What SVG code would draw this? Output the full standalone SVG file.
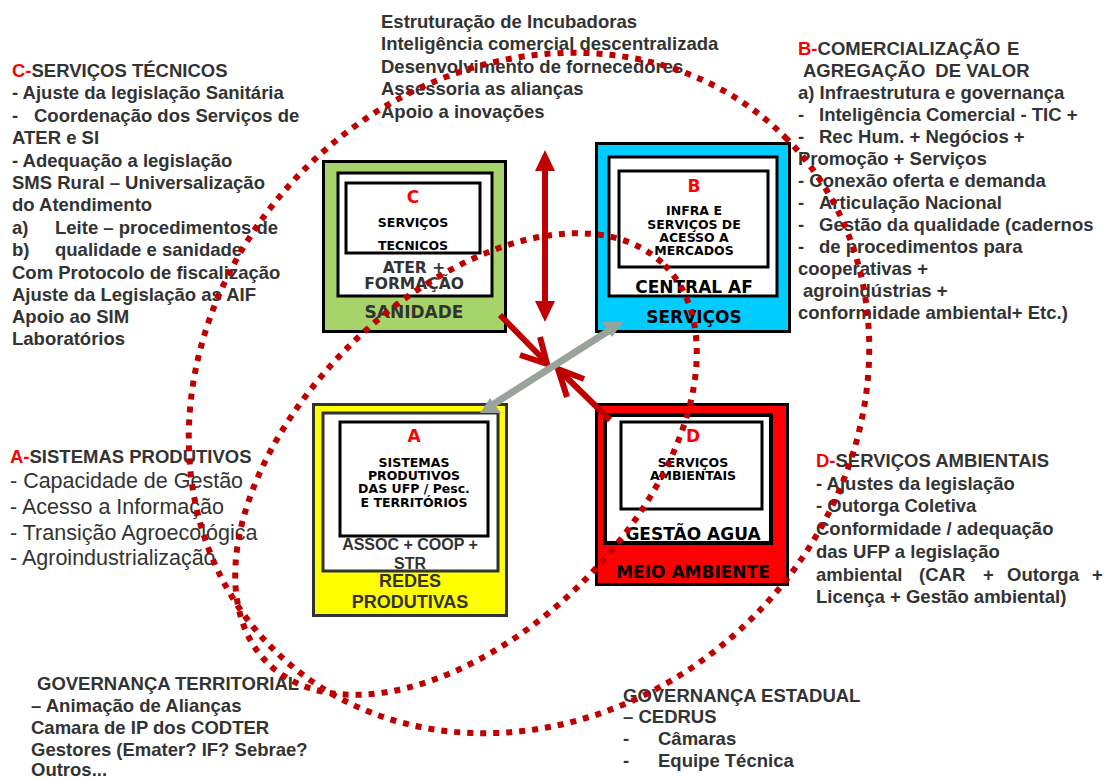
<svg xmlns="http://www.w3.org/2000/svg" width="1105" height="780" viewBox="0 0 1105 780">
<style>
.t{font-family:"Liberation Sans",Arial,sans-serif;font-weight:bold;font-size:18.5px;fill:#333333}
.tr{font-family:"Liberation Sans",Arial,sans-serif;font-weight:normal;font-size:21.5px;fill:#333333}
.red{fill:#ff0000}
.v{font-family:"DejaVu Sans",Verdana,sans-serif;font-weight:bold;text-anchor:middle}
.in{font-size:12.5px;fill:#000}
.let{font-size:17px;fill:#ff0000}
.lab{font-size:17px;fill:#000}
.gl{fill:#333333}
.a{font-family:"Liberation Sans",Arial,sans-serif;font-weight:bold;text-anchor:middle;fill:#333333}
.box{stroke:#000;stroke-width:3}
.wb{fill:#fff;stroke:#000;stroke-width:3}
.ring{fill:none;stroke:#c00000;stroke-width:6;stroke-dasharray:6 7}
.redl{stroke:#c00000;stroke-width:6;fill:none}
.redf{fill:#c00000}
.gray{stroke:#98a39c;stroke-width:7;fill:none}
.grayf{fill:#98a39c}
</style>
<rect width="1105" height="780" fill="#fff"/>

<g id="text-c">
<text class="t" x="12" y="77"><tspan class="red">C-</tspan>SERVIÇOS TÉCNICOS</text>
<text class="t" x="12" y="99">- Ajuste da legislação Sanitária</text>
<text class="t" x="12" y="122">-<tspan x="34">Coordenação dos Serviços de</tspan></text>
<text class="t" x="12" y="144">ATER e SI</text>
<text class="t" x="12" y="167">- Adequação a legislação</text>
<text class="t" x="12" y="189">SMS Rural – Universalização</text>
<text class="t" x="12" y="211">do Atendimento</text>
<text class="t" x="12" y="234">a)<tspan x="55">Leite – procedimentos de</tspan></text>
<text class="t" x="12" y="256">b)<tspan x="55">qualidade e sanidade</tspan></text>
<text class="t" x="12" y="279">Com Protocolo de fiscalização</text>
<text class="t" x="12" y="301">Ajuste da Legislação as AIF</text>
<text class="t" x="12" y="323">Apoio ao SIM</text>
<text class="t" x="12" y="345">Laboratórios</text>
</g>

<g id="text-top">
<text class="t" x="381" y="28">Estruturação de Incubadoras</text>
<text class="t" x="381" y="50">Inteligência comercial descentralizada</text>
<text class="t" x="381" y="73">Desenvolvimento de fornecedores</text>
<text class="t" x="381" y="95">Assessoria as alianças</text>
<text class="t" x="381" y="118">Apoio a inovações</text>
</g>

<g id="text-b">
<text class="t" x="798" y="55"><tspan class="red">B-</tspan>COMERCIALIZAÇÃO<tspan x="1007">E</tspan></text>
<text class="t" x="803" y="77">AGREGAÇÃO<tspan dx="10">DE VALOR</tspan></text>
<text class="t" x="798" y="99">a) Infraestrutura e governança</text>
<text class="t" x="798" y="121">-<tspan x="819">Inteligência Comercial - TIC +</tspan></text>
<text class="t" x="798" y="143">-<tspan x="819">Rec Hum. + Negócios +</tspan></text>
<text class="t" x="798" y="165">Promoção + Serviços</text>
<text class="t" x="798" y="187">- Conexão oferta e demanda</text>
<text class="t" x="798" y="209">-<tspan x="819">Articulação Nacional</tspan></text>
<text class="t" x="798" y="231">-<tspan x="819">Gestão da qualidade (cadernos</tspan></text>
<text class="t" x="798" y="253">-<tspan x="819">de procedimentos para</tspan></text>
<text class="t" x="798" y="275">cooperativas +</text>
<text class="t" x="803" y="297">agroindústrias +</text>
<text class="t" x="798" y="319">conformidade ambiental+ Etc.)</text>
</g>

<g id="text-a">
<text class="t" x="10" y="463"><tspan class="red">A-</tspan>SISTEMAS PRODUTIVOS</text>
<text class="tr" x="10" y="488">- Capacidade de Gestão</text>
<text class="tr" x="10" y="514">- Acesso a Informação</text>
<text class="tr" x="10" y="540">- Transição Agroecológica</text>
<text class="tr" x="10" y="565">- Agroindustrialização</text>
</g>

<g id="text-d">
<text class="t" x="816" y="467"><tspan class="red">D-</tspan>SERVIÇOS AMBIENTAIS</text>
<text class="t" x="816" y="490">- Ajustes da legislação</text>
<text class="t" x="816" y="512">- Outorga Coletiva</text>
<text class="t" x="816" y="535">Conformidade / adequação</text>
<text class="t" x="816" y="558">das UFP a legislação</text>
<text class="t" x="816" y="581">ambiental<tspan x="919">(CAR</tspan><tspan x="983">+</tspan><tspan x="1007">Outorga</tspan><tspan x="1092">+</tspan></text>
<text class="t" x="816" y="603">Licença + Gestão ambiental)</text>
</g>

<g id="text-gov-territorial">
<text class="t" x="37" y="690">GOVERNANÇA TERRITORIAL</text>
<text class="t" x="31" y="712">– Animação de Alianças</text>
<text class="t" x="31" y="734">Camara de IP dos CODTER</text>
<text class="t" x="31" y="756">Gestores (Emater? IF? Sebrae?</text>
<text class="t" x="31" y="776">Outros...</text>
</g>

<g id="text-gov-estadual">
<text class="t" x="623" y="702">GOVERNANÇA ESTADUAL</text>
<text class="t" x="623" y="723">– CEDRUS</text>
<text class="t" x="623" y="745">-<tspan x="658">Câmaras</tspan></text>
<text class="t" x="623" y="767">-<tspan x="658">Equipe Técnica</tspan></text>
</g>

<g id="node-c">
<rect class="box" x="323.5" y="161.5" width="182" height="170" fill="#a6d46b"/>
<rect class="wb" x="338" y="173" width="154" height="123"/>
<rect class="wb" x="346" y="183" width="134" height="70"/>
<text class="v let" x="413" y="203" font-size="18">C</text>
<text class="v in" x="413" y="227">SERVIÇOS</text>
<text class="v in" x="413" y="250">TECNICOS</text>
<text class="v gl" x="414" y="273" font-size="15.5">ATER +</text>
<text class="v gl" x="414" y="289" font-size="15.5">FORMAÇÃO</text>
<text class="v gl" x="414" y="318" font-size="17">SANIDADE</text>
</g>

<g id="node-b">
<rect class="box" x="596.5" y="143.5" width="193" height="188" fill="#00ccff"/>
<rect class="wb" x="609" y="157" width="168" height="139"/>
<rect class="wb" x="619" y="171" width="149" height="96"/>
<text class="v let" x="694" y="192" font-size="18">B</text>
<text class="v in" x="694" y="215" font-size="13">INFRA E</text>
<text class="v in" x="694" y="229" font-size="13">SERVIÇOS DE</text>
<text class="v in" x="694" y="242" font-size="13">ACESSO A</text>
<text class="v in" x="694" y="255" font-size="13">MERCADOS</text>
<text class="v lab" x="694" y="293">CENTRAL AF</text>
<text class="v lab" x="694" y="323">SERVIÇOS</text>
</g>

<g id="node-a">
<rect x="313.5" y="404.5" width="193" height="211" fill="#ffff00" stroke="#333" stroke-width="3"/>
<rect x="323" y="413" width="175" height="158" fill="#fff" stroke="#333" stroke-width="3"/>
<rect class="wb" x="340" y="422" width="148" height="114"/>
<text class="v let" x="414" y="442" font-size="18">A</text>
<text class="v in" x="414" y="467">SISTEMAS</text>
<text class="v in" x="414" y="480">PRODUTIVOS</text>
<text class="v in" x="414" y="493">DAS UFP / Pesc.</text>
<text class="v in" x="414" y="507">E TERRITÓRIOS</text>
<text class="a" x="410" y="550" font-size="16">ASSOC + COOP +</text>
<text class="a" x="410" y="569" font-size="16">STR</text>
<text class="a" x="410" y="587" font-size="18">REDES</text>
<text class="a" x="410" y="608" font-size="18">PRODUTIVAS</text>
</g>

<g id="node-d">
<rect class="box" x="596.5" y="404.5" width="191" height="180" fill="#ff0000"/>
<rect x="605" y="415" width="166" height="128" fill="#fff" stroke="#000" stroke-width="4"/>
<rect class="wb" x="621" y="422" width="141" height="87"/>
<text class="v let" x="693" y="442" font-size="18">D</text>
<text class="v in" x="693" y="467">SERVIÇOS</text>
<text class="v in" x="693" y="480">AMBIENTAIS</text>
<text class="v lab" x="693" y="540" font-size="16">GESTÃO AGUA</text>
<text class="v lab" x="693" y="578" font-size="15">MEIO AMBIENTE</text>
</g>

<g id="connectors">
<line class="redl" x1="545" y1="166" x2="545" y2="306"/>
<polygon class="redf" points="545,150 555,171 535,171"/>
<polygon class="redf" points="545,322 555,301 535,301"/>
<line class="redl" x1="500" y1="315" x2="546" y2="362"/>
<path class="redl" d="M520,355 L547,364 L540,337"/>
<line class="redl" x1="610" y1="420" x2="560" y2="371"/>
<path class="redl" d="M567,397 L558,369 L584,379"/>
<line class="gray" x1="610" y1="330" x2="492" y2="405"/>
<polygon class="grayf" points="623,322 602,322 612,337"/>
<polygon class="grayf" points="480,413 490,398 501,413"/>
</g>

<g id="rings">
<ellipse class="ring" cx="529" cy="393" rx="362" ry="317" transform="rotate(-45 529 393)"/>
<ellipse class="ring" cx="466" cy="464" rx="281" ry="166" transform="rotate(-45 466 464)"/>
</g>
</svg>
